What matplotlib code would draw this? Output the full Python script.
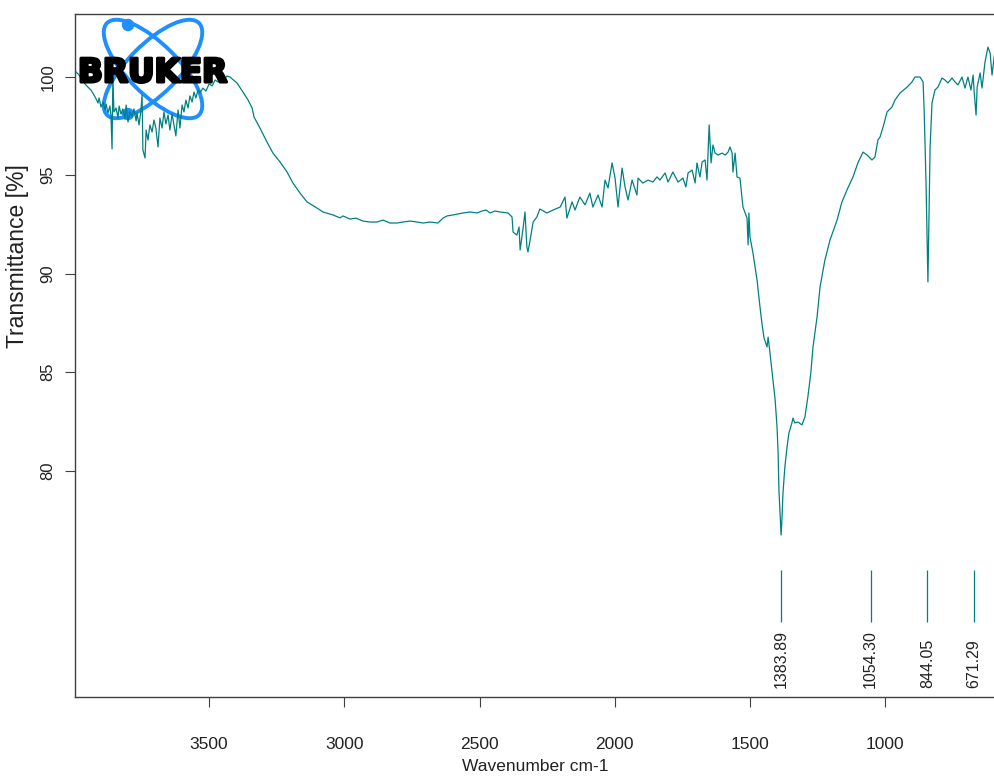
import matplotlib
matplotlib.use('Agg')
import matplotlib.pyplot as plt
import matplotlib.patheffects as pe
from matplotlib.patches import Ellipse, Circle

# spectrum (wavenumber cm-1, transmittance %)
wavenumber = [
    3992, 3981, 3970, 3959, 3948, 3937, 3926, 3918, 3911, 3907, 3900, 3892, 3885, 3881,
    3874, 3867, 3863, 3859, 3856, 3852, 3844, 3837, 3833, 3826, 3819, 3811, 3807, 3800,
    3793, 3785, 3778, 3770, 3767, 3759, 3752, 3748, 3745, 3737, 3733, 3726, 3719, 3711,
    3704, 3697, 3689, 3682, 3674, 3667, 3660, 3652, 3645, 3637, 3630, 3623, 3615, 3608,
    3600, 3593, 3586, 3578, 3571, 3563, 3556, 3549, 3541, 3534, 3523, 3512, 3500, 3489,
    3478, 3467, 3456, 3445, 3434, 3423,
    3397, 3375, 3356, 3341, 3334, 3312, 3286, 3264, 3238, 3212, 3190, 3164, 3138, 3101,
    3079, 3042, 3016, 3005, 2979, 2957, 2931, 2905, 2879, 2857, 2831, 2805, 2783, 2757,
    2731, 2709, 2683, 2654, 2635, 2620, 2598, 2561, 2535, 2509, 2491, 2476, 2461, 2443,
    2424, 2395, 2380, 2376, 2362, 2354, 2350, 2339, 2332, 2325, 2321, 2313, 2302, 2288,
    2277, 2251, 2228, 2202, 2184, 2177, 2158, 2147, 2129, 2110, 2092, 2081, 2062, 2047,
    2036, 2025, 2010, 1999, 1988, 1973, 1962, 1951, 1936, 1918, 1914, 1896, 1877, 1859,
    1844, 1833, 1814, 1803, 1785, 1766, 1748, 1737, 1729, 1714, 1703, 1696, 1685, 1677,
    1666, 1659, 1655, 1651, 1644, 1637, 1629, 1618, 1603, 1592, 1581, 1574, 1566, 1563,
    1555, 1548, 1537,
    1526, 1511, 1507, 1504, 1500, 1489, 1474, 1463, 1455, 1448, 1437, 1433, 1426, 1415,
    1407, 1400, 1396, 1393, 1389, 1385, 1382, 1378, 1371, 1363, 1356, 1345, 1341, 1334,
    1323, 1308, 1297, 1286, 1275, 1267, 1252, 1241, 1223, 1204, 1178, 1160, 1138, 1119,
    1101, 1082, 1067, 1049, 1038, 1027,
    1019, 1008, 993, 975, 964, 945, 919, 901, 890, 871, 860, 856, 849, 845, 842, 838,
    834, 827, 816, 805, 790, 779, 768, 753, 742, 731, 716, 705, 694, 683, 675, 671,
    664, 660, 649, 642, 631, 620, 612, 605, 594,
]
transmittance = [
    100.24, 100.08, 99.83, 99.63, 99.47, 99.32, 99.07, 98.87, 98.66, 98.92, 98.46, 98.71, 98.31, 98.61,
    98.16, 98.51, 98.00, 96.33, 100.03, 98.21, 98.41, 97.90, 98.51, 98.10, 98.36, 97.85, 98.56, 97.70,
    98.21, 97.95, 98.36, 97.75, 98.16, 97.55, 98.31, 99.07, 96.28, 95.87, 97.29, 96.78, 97.55, 97.19,
    97.80, 97.39, 96.43, 97.90, 97.39, 98.21, 97.60, 98.05, 97.29, 98.10, 97.55, 96.99, 98.31, 97.39,
    98.56, 98.21, 98.81, 98.41, 99.02, 98.71, 99.22, 98.92, 99.32, 99.17, 99.42, 99.27, 99.63, 99.53,
    99.83, 99.73, 99.93, 99.88, 100.03, 99.98,
    99.68, 99.22, 98.81, 98.41, 97.95, 97.39, 96.68, 96.12, 95.67, 95.16, 94.60, 94.09, 93.64, 93.33,
    93.13, 92.98, 92.83, 92.93, 92.77, 92.82, 92.67, 92.62, 92.62, 92.72, 92.57, 92.57, 92.62, 92.67,
    92.62, 92.57, 92.62, 92.57, 92.82, 92.93, 92.98, 93.08, 93.13, 93.08, 93.18, 93.23, 93.08, 93.18,
    93.13, 93.08, 92.88, 92.11, 91.96, 92.37, 91.20, 92.32, 93.13, 91.35, 91.10, 91.71, 92.62, 92.88,
    93.28, 93.08, 93.23, 93.38, 93.89, 92.82, 93.64, 93.23, 93.89, 93.49, 94.09, 93.38, 93.99, 93.38,
    94.75, 94.35, 95.62, 94.85, 93.38, 95.36, 94.40, 93.74, 94.75, 93.99, 94.85, 94.60, 94.75, 94.65,
    94.91, 94.75, 95.11, 94.65, 95.16, 94.65, 94.85, 94.40, 95.11, 95.26, 94.60, 95.62, 94.91, 95.67,
    95.77, 94.75, 96.12, 97.55, 95.62, 96.53, 96.12, 96.02, 96.12, 96.02, 96.17, 96.43, 96.12, 95.16,
    96.12, 94.91, 94.85,
    93.38, 92.82, 91.46, 93.08, 91.86, 91.05, 89.68, 88.31, 87.39, 86.73, 86.28, 86.78, 85.97, 84.60,
    83.59, 82.22, 80.90, 79.02, 77.85, 76.73, 77.50, 78.87, 80.19, 81.20, 81.91, 82.42, 82.67, 82.42,
    82.47, 82.32, 82.72, 83.74, 84.96, 86.28, 87.80, 89.32, 90.69, 91.71, 92.72, 93.64, 94.35, 94.91,
    95.62, 96.17, 96.02, 95.77, 95.92, 96.78,
    96.94, 97.44, 98.21, 98.46, 98.81, 99.17, 99.47, 99.73, 99.98, 99.98, 99.73, 98.31, 94.60, 91.71, 89.58, 92.88,
    96.43, 98.66, 99.32, 99.47, 99.93, 99.83, 99.68, 99.93, 99.73, 99.58, 99.98, 99.42, 99.98, 99.32, 100.08, 99.22,
    98.05, 99.47, 100.19, 99.42, 100.74, 101.50, 101.20, 100.08, 101.35,
]

peak_positions = [1383.89, 1054.30, 844.05, 671.29]
peak_labels = ['1383.89', '1054.30', '844.05', '671.29']

x_ticks = [3500, 3000, 2500, 2000, 1500, 1000]
y_ticks = [80, 85, 90, 95, 100]

TEAL = '#008080'
AXC = '#404040'
TXT = '#222222'
FONT = 'Liberation Sans'

W, H = 995, 776
fig = plt.figure(figsize=(W / 100, H / 100), dpi=100)
ax = fig.add_axes([75 / W, 79 / H, 920 / W, 683 / H])

ax.plot(wavenumber, transmittance, color=TEAL, lw=0.9, zorder=3)

# peak markers
ax.vlines(peak_positions, 72.32, 74.96, color=TEAL, lw=0.9)
for p, lab in zip(peak_positions, peak_labels):
    ax.text(p, 68.95, lab, rotation=90, ha='center', va='bottom',
            family=FONT, fontsize=11.5, color=TXT)

ax.set_xlim(3996, 594)
ax.set_ylim(68.51, 103.18)
ax.set_xticks(x_ticks)
ax.set_yticks(y_ticks)
ax.set_xticklabels([str(t) for t in x_ticks], family=FONT, fontsize=12.5, color=TXT)
ax.set_yticklabels([str(t) for t in y_ticks], family=FONT, fontsize=12, color=TXT,
                   rotation=90, va='center')
ax.tick_params(axis='x', direction='out', length=7, width=0.8, color=AXC, pad=22)
ax.tick_params(axis='y', direction='out', length=7, width=0.8, color=AXC, pad=7)

for s in ['left', 'bottom', 'top']:
    ax.spines[s].set_color(AXC)
    ax.spines[s].set_linewidth(1.0)
ax.spines['right'].set_visible(False)

ax.set_xlabel('Wavenumber cm-1', family=FONT, fontsize=12.5, color=TXT, labelpad=5)
ax.set_ylabel('Transmittance [%]', family=FONT, fontsize=16.5, color=TXT)
ax.yaxis.set_label_coords(-0.050, 0.645)


# Bruker logo in the top left corner (pixel positions -> inches)
def px(x, y):
    return (x / 100, (H - y) / 100)


BLUE = '#1e8fff'
for ang in (45, -45):
    ax.add_patch(Ellipse(px(153, 69), 1.30, 0.50, angle=ang, fill=False, ec=BLUE, lw=2.8,
                         transform=fig.dpi_scale_trans, clip_on=False, zorder=2))
for dot in ((128, 25), (128, 114)):
    ax.add_patch(Circle(px(*dot), 0.055, color=BLUE, transform=fig.dpi_scale_trans,
                        clip_on=False, zorder=2))
fig.text(78 / W, 1 - 82 / H, 'BRUKER', family='DejaVu Sans', fontweight='heavy',
         fontsize=23.5, color='black', va='baseline', ha='left', zorder=5,
         path_effects=[pe.withStroke(linewidth=2.2, foreground='black')])

fig.savefig('out.png', dpi=100)
